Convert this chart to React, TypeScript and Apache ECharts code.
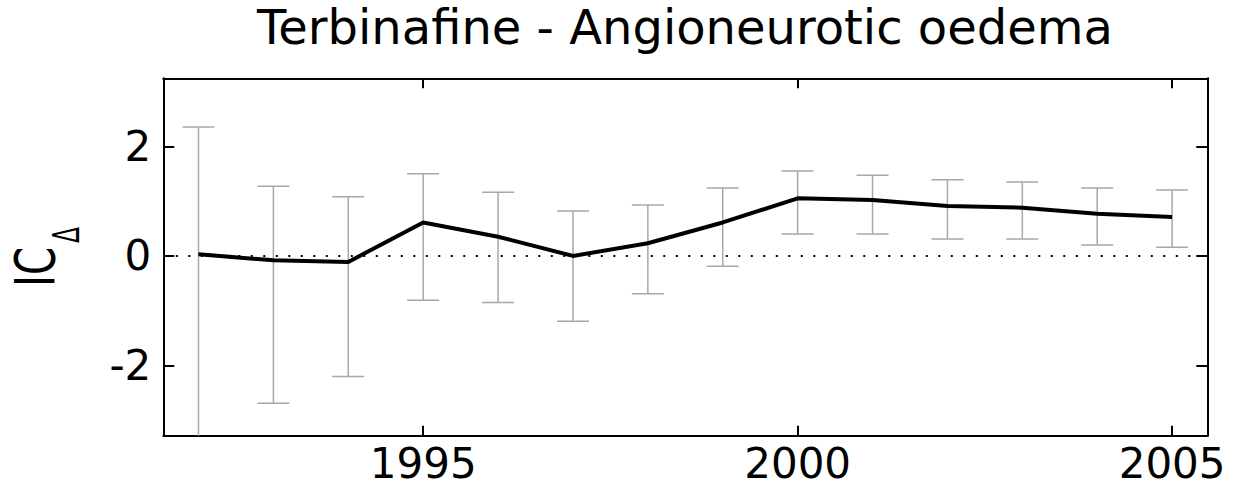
import React, { useEffect, useRef } from 'react';
import * as echarts from 'echarts';

const titleText = 'Terbinafine - Angioneurotic oedema';
const years = [1992, 1993, 1994, 1995, 1996, 1997, 1998, 1999, 2000, 2001, 2002, 2003, 2004, 2005];
const icValues = [0.03, -0.08, -0.11, 0.61, 0.35, 0.0, 0.23, 0.61, 1.05, 1.02, 0.91, 0.88, 0.77, 0.71];
const lowerBounds = [-3.6, -2.69, -2.2, -0.81, -0.85, -1.19, -0.69, -0.19, 0.4, 0.4, 0.31, 0.31, 0.2, 0.16];
const upperBounds = [2.35, 1.27, 1.08, 1.5, 1.16, 0.82, 0.93, 1.24, 1.55, 1.47, 1.39, 1.35, 1.24, 1.2];
const xTicks = [1995, 2000, 2005];
const yTicks = [-2, 0, 2];
const xRange = [1991.53, 2005.47];
const yRange = [-3.28, 3.24];

const FONT = '"DejaVu Sans", "Liberation Sans", Arial, sans-serif';

export default function App() {
  const ref = useRef<HTMLDivElement>(null);

  useEffect(() => {
    if (!ref.current) return;
    const chart = echarts.init(ref.current, undefined, { renderer: 'svg' });

    const tickStyle = { color: '#000', width: 2 };
    const axisLineStyle = { show: true, onZero: false, lineStyle: { color: '#000', width: 2 } };

    const makeX = (position: 'bottom' | 'top', showLabel: boolean) => ({
      type: 'value',
      position,
      min: xRange[0],
      max: xRange[1],
      axisLine: axisLineStyle,
      axisTick: { show: true, inside: true, length: 10, lineStyle: tickStyle, customValues: xTicks },
      axisLabel: {
        show: showLabel,
        customValues: xTicks,
        formatter: (v: number) => String(v),
        fontSize: 42,
        fontFamily: FONT,
        color: '#000',
        margin: 7,
      },
      splitLine: { show: false },
    });

    const makeY = (position: 'left' | 'right', showLabel: boolean) => ({
      type: 'value',
      position,
      min: yRange[0],
      max: yRange[1],
      axisLine: axisLineStyle,
      axisTick: { show: true, inside: true, length: 11, lineStyle: tickStyle, customValues: yTicks },
      axisLabel: {
        show: showLabel,
        customValues: yTicks,
        formatter: (v: number) => String(v),
        fontSize: 42,
        fontFamily: FONT,
        color: '#000',
        margin: 12,
      },
      splitLine: { show: false },
    });

    const errorData = years.map((y, i) => [y, lowerBounds[i], upperBounds[i]]);
    const lineData = years.map((y, i) => [y, icValues[i]]);

    chart.setOption({
      animation: false,
      backgroundColor: '#fff',
      title: {
        text: titleText,
        left: 685,
        top: 27,
        textAlign: 'center',
        textVerticalAlign: 'middle',
        padding: 0,
        textStyle: { fontFamily: FONT, fontSize: 48, fontWeight: 'normal', color: '#000' },
      },
      grid: {
        left: 163.3,
        right: 25.7,
        top: 78.3,
        bottom: 53.3,
        containLabel: false,
        outerBoundsMode: 'none',
      },
      xAxis: [makeX('bottom', true), makeX('top', false)],
      yAxis: [makeY('left', true), makeY('right', false)],
      graphic: [
        {
          type: 'text',
          x: 35,
          y: 267,
          rotation: Math.PI / 2,
          scaleX: 0.915,
          scaleY: 1.25,
          style: {
            text: 'IC',
            fontSize: 44,
            fontFamily: FONT,
            fill: '#000',
            align: 'center',
            verticalAlign: 'middle',
            textAlign: 'center',
            textVerticalAlign: 'middle',
          },
        },
        {
          type: 'text',
          x: 66.5,
          y: 235,
          rotation: Math.PI / 2,
          scaleX: 0.9,
          scaleY: 1.4,
          style: {
            text: 'Δ',
            fontSize: 26,
            fontFamily: FONT,
            fill: '#000',
            align: 'center',
            verticalAlign: 'middle',
            textAlign: 'center',
            textVerticalAlign: 'middle',
          },
        },
      ],
      series: [
        {
          type: 'custom',
          name: 'CI',
          xAxisIndex: 0,
          yAxisIndex: 0,
          z: 2,
          data: errorData,
          encode: { x: 0, y: [1, 2] },
          renderItem: (params: any, api: any) => {
            const x = api.value(0);
            const lo = api.value(1);
            const hi = api.value(2);
            const top = api.coord([x, hi]);
            const bot = api.coord([x, lo]);
            const cs = params.coordSys;
            const yMin = cs.y;
            const yMax = cs.y + cs.height;
            const ty = Math.max(top[1], yMin);
            const by = Math.min(bot[1], yMax);
            const style = { stroke: '#a8a8a8', lineWidth: 1.5, fill: 'none' };
            const half = 16;
            const children: any[] = [
              { type: 'line', shape: { x1: top[0], y1: ty, x2: top[0], y2: by }, style },
            ];
            if (top[1] >= yMin) {
              children.push({ type: 'line', shape: { x1: top[0] - half, y1: top[1], x2: top[0] + half, y2: top[1] }, style });
            }
            if (bot[1] <= yMax) {
              children.push({ type: 'line', shape: { x1: bot[0] - half, y1: bot[1], x2: bot[0] + half, y2: bot[1] }, style });
            }
            return { type: 'group', children };
          },
        },
        {
          type: 'line',
          name: 'IC',
          xAxisIndex: 0,
          yAxisIndex: 0,
          z: 3,
          data: lineData,
          symbol: 'none',
          showSymbol: false,
          lineStyle: { color: '#000', width: 4 },
          markLine: {
            silent: true,
            symbol: 'none',
            label: { show: false },
            lineStyle: { color: '#000', width: 2, type: [2, 10.5] },
            data: [{ yAxis: 0 }],
            z: 1,
          },
        },
      ],
    });

    return () => {
      chart.dispose();
    };
  }, []);

  return (
    <div
      ref={ref}
      style={{ position: 'fixed', left: 0, top: 0, width: 1233, height: 489, background: '#fff' }}
    />
  );
}
